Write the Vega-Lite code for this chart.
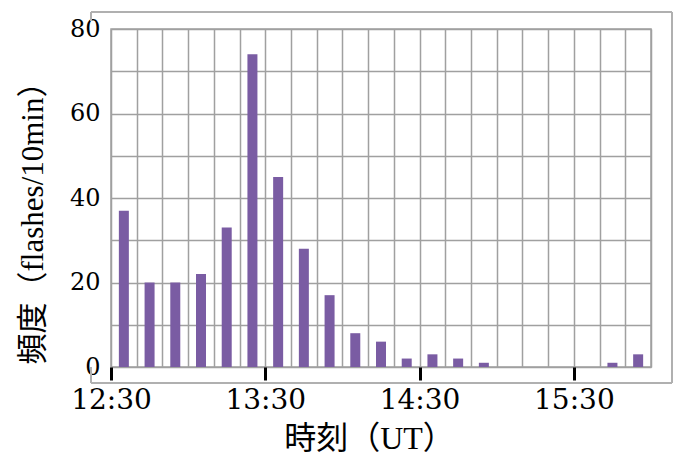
{
  "$schema": "https://vega.github.io/schema/vega-lite/v6.json",
  "width": 540,
  "height": 338,
  "autosize": "none",
  "padding": {"left": 111, "top": 29, "right": 22, "bottom": 90},
  "background": "white",
  "config": {"view": {"stroke": "#a0a0a0", "strokeWidth": 1.5}, "scale": {"continuousPadding": 0}},
  "resolve": {"axis": {"x": "independent", "y": "independent"}},
  "data": {
    "values": [
      {"time": "2000-01-01T12:30:00", "count": 37},
      {"time": "2000-01-01T12:40:00", "count": 20},
      {"time": "2000-01-01T12:50:00", "count": 20},
      {"time": "2000-01-01T13:00:00", "count": 22},
      {"time": "2000-01-01T13:10:00", "count": 33},
      {"time": "2000-01-01T13:20:00", "count": 74},
      {"time": "2000-01-01T13:30:00", "count": 45},
      {"time": "2000-01-01T13:40:00", "count": 28},
      {"time": "2000-01-01T13:50:00", "count": 17},
      {"time": "2000-01-01T14:00:00", "count": 8},
      {"time": "2000-01-01T14:10:00", "count": 6},
      {"time": "2000-01-01T14:20:00", "count": 2},
      {"time": "2000-01-01T14:30:00", "count": 3},
      {"time": "2000-01-01T14:40:00", "count": 2},
      {"time": "2000-01-01T14:50:00", "count": 1},
      {"time": "2000-01-01T15:00:00", "count": 0},
      {"time": "2000-01-01T15:10:00", "count": 0},
      {"time": "2000-01-01T15:20:00", "count": 0},
      {"time": "2000-01-01T15:30:00", "count": 0},
      {"time": "2000-01-01T15:40:00", "count": 1},
      {"time": "2000-01-01T15:50:00", "count": 3}
    ]
  },
  "layer": [
    {
      "mark": {"type": "bar", "width": 10, "xOffset": 12.86, "color": "#7a5ca3"},
      "encoding": {
        "x": {
          "field": "time",
          "type": "temporal",
          "title": "時刻（UT）",
          "scale": {
            "domain": [
              {"year": 2000, "month": 1, "date": 1, "hours": 12, "minutes": 30},
              {"year": 2000, "month": 1, "date": 1, "hours": 16, "minutes": 0}
            ],
            "nice": false
          },
          "axis": {
            "titleFont": "Liberation Serif, Noto Sans CJK JP",
            "titleFontSize": 32,
            "titleFontWeight": "normal",
            "titleColor": "black",
            "titleX": 258,
            "titleY": 71,
            "titleAlign": "center",
            "titleBaseline": "middle",
            "values": [
              {"year": 2000, "month": 1, "date": 1, "hours": 12, "minutes": 30},
              {"year": 2000, "month": 1, "date": 1, "hours": 12, "minutes": 40},
              {"year": 2000, "month": 1, "date": 1, "hours": 12, "minutes": 50},
              {"year": 2000, "month": 1, "date": 1, "hours": 13, "minutes": 0},
              {"year": 2000, "month": 1, "date": 1, "hours": 13, "minutes": 10},
              {"year": 2000, "month": 1, "date": 1, "hours": 13, "minutes": 20},
              {"year": 2000, "month": 1, "date": 1, "hours": 13, "minutes": 30},
              {"year": 2000, "month": 1, "date": 1, "hours": 13, "minutes": 40},
              {"year": 2000, "month": 1, "date": 1, "hours": 13, "minutes": 50},
              {"year": 2000, "month": 1, "date": 1, "hours": 14, "minutes": 0},
              {"year": 2000, "month": 1, "date": 1, "hours": 14, "minutes": 10},
              {"year": 2000, "month": 1, "date": 1, "hours": 14, "minutes": 20},
              {"year": 2000, "month": 1, "date": 1, "hours": 14, "minutes": 30},
              {"year": 2000, "month": 1, "date": 1, "hours": 14, "minutes": 40},
              {"year": 2000, "month": 1, "date": 1, "hours": 14, "minutes": 50},
              {"year": 2000, "month": 1, "date": 1, "hours": 15, "minutes": 0},
              {"year": 2000, "month": 1, "date": 1, "hours": 15, "minutes": 10},
              {"year": 2000, "month": 1, "date": 1, "hours": 15, "minutes": 20},
              {"year": 2000, "month": 1, "date": 1, "hours": 15, "minutes": 30},
              {"year": 2000, "month": 1, "date": 1, "hours": 15, "minutes": 40},
              {"year": 2000, "month": 1, "date": 1, "hours": 15, "minutes": 50},
              {"year": 2000, "month": 1, "date": 1, "hours": 16, "minutes": 0}
            ],
            "format": "%H:%M",
            "grid": true,
            "gridColor": "#a0a0a0",
            "gridWidth": 1.5,
            "domain": false,
            "ticks": true,
            "tickWidth": 3,
            "tickSize": 13,
            "tickColor": {"condition": {"test": "minutes(datum.value) == 30", "value": "black"}, "value": "transparent"},
            "labelExpr": "minutes(datum.value) == 30 ? datum.label : ''",
            "labelFont": "DejaVu Serif",
            "labelFontSize": 28,
            "labelColor": "black",
            "labelPadding": 6,
            "labelFlush": false,
            "labelOverlap": false
          }
        },
        "y": {
          "field": "count",
          "type": "quantitative",
          "title": "頻度（flashes/10min）",
          "scale": {"domain": [0, 80], "nice": false},
          "axis": {
            "titleFont": "Liberation Serif, Noto Sans CJK JP",
            "titleFontSize": 31,
            "titleFontWeight": "normal",
            "titleColor": "black",
            "titleAngle": 270,
            "titleX": -78,
            "titleY": 186,
            "titleAlign": "center",
            "titleBaseline": "middle",
            "values": [0, 10, 20, 30, 40, 50, 60, 70, 80],
            "grid": true,
            "gridColor": "#a0a0a0",
            "gridWidth": 1.5,
            "domain": false,
            "ticks": false,
            "labelExpr": "datum.value % 20 == 0 ? datum.label : ''",
            "labelFont": "DejaVu Serif",
            "labelFontSize": 24,
            "labelColor": "black",
            "labelPadding": 11
          }
        }
      }
    },
    {
      "mark": {"type": "rule", "color": "#b0b0b0", "strokeWidth": 1.5},
      "encoding": {
        "x": {"datum": {"year": 2000, "month": 1, "date": 1, "hours": 12, "minutes": 22, "seconds": 13}, "type": "temporal", "axis": null},
        "x2": {"datum": {"year": 2000, "month": 1, "date": 1, "hours": 16, "minutes": 8, "seconds": 10}},
        "y": {"datum": 84.02, "type": "quantitative", "axis": null}
      }
    },
    {
      "mark": {"type": "rule", "color": "#b0b0b0", "strokeWidth": 1.5},
      "encoding": {
        "x": {"datum": {"year": 2000, "month": 1, "date": 1, "hours": 12, "minutes": 22, "seconds": 13}, "type": "temporal", "axis": null},
        "x2": {"datum": {"year": 2000, "month": 1, "date": 1, "hours": 16, "minutes": 8, "seconds": 10}},
        "y": {"datum": -3.79, "type": "quantitative", "axis": null}
      }
    },
    {
      "mark": {"type": "rule", "color": "#b0b0b0", "strokeWidth": 1.5},
      "encoding": {
        "x": {"datum": {"year": 2000, "month": 1, "date": 1, "hours": 16, "minutes": 8, "seconds": 10}, "type": "temporal", "axis": null},
        "y": {"datum": -3.79, "type": "quantitative", "axis": null},
        "y2": {"datum": 84.02}
      }
    },
    {
      "mark": {"type": "rule", "color": "#b0b0b0", "strokeWidth": 1.5},
      "encoding": {
        "x": {"datum": {"year": 2000, "month": 1, "date": 1, "hours": 12, "minutes": 22, "seconds": 13}, "type": "temporal", "axis": null},
        "y": {"datum": -3.79, "type": "quantitative", "axis": null},
        "y2": {"datum": 0}
      }
    },
    {
      "mark": {"type": "rule", "color": "#b0b0b0", "strokeWidth": 1.5},
      "encoding": {
        "x": {"datum": {"year": 2000, "month": 1, "date": 1, "hours": 12, "minutes": 22, "seconds": 13}, "type": "temporal", "axis": null},
        "y": {"datum": 81.9, "type": "quantitative", "axis": null},
        "y2": {"datum": 84.02}
      }
    }
  ]
}
